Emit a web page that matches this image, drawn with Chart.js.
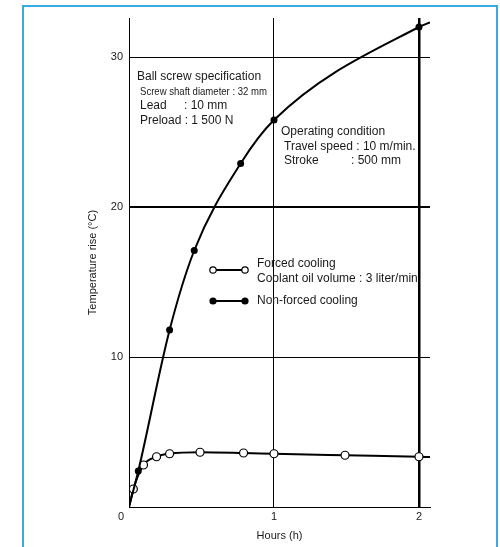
<!DOCTYPE html>
<html>
<head>
<meta charset="utf-8">
<script src="https://cdn.jsdelivr.net/npm/chart.js@4.4.1/dist/chart.umd.min.js"></script>
<style>
  body { margin: 0; background: #fff; }
  #wrap { width: 500px; height: 547px; }
</style>
</head>
<body>
<div id="wrap"><canvas id="TempChart" width="500" height="547"></canvas></div>
<script>
// values (hours / temperature rise in degC)
var forcedHours = [0, 0.03, 0.10, 0.19, 0.28, 0.49, 0.79, 1.0, 1.49, 2.0, 2.076];
var forcedTemp  = [0, 1.2, 2.8, 3.35, 3.55, 3.65, 3.6, 3.55, 3.45, 3.35, 3.33];
var nonForcedHours = [0, 0.064, 0.28, 0.45, 0.77, 1.0, 2.0, 2.076];
var nonForcedTemp  = [0, 2.4, 11.8, 17.1, 22.9, 25.8, 32.0, 32.3];
var xTicks = [0, 1, 2];
var yTicks = [0, 10, 20, 30];
var xMax = 2.076;
var yMax = 32.6;

function toPoints(xs, ys)
{
    var pts = [];
    for (var i = 0; i < xs.length; i++) pts.push({x: xs[i], y: ys[i]});
    return pts;
}

// hide the marker on the first and last point (curve start / run-out)
function markerRadius(r)
{
    return function(ctx) {
        var n = ctx.dataset.data.length;
        return (ctx.dataIndex === 0 || ctx.dataIndex === n - 1) ? 0 : r;
    };
}

var FONT = "'Liberation Sans', Arial, Helvetica, sans-serif";

// squeeze a line of text into a given width (condensed look)
function narrowText(c, txt, x, y, w)
{
    var k = w / c.measureText(txt).width;
    c.save();
    c.translate(x, y);
    c.scale(k, 1);
    c.fillText(txt, 0, 0);
    c.restore();
}

var framePlugin = {
    id: 'frame',
    beforeDraw: function(chart) {
        var c = chart.ctx;
        c.save();
        c.fillStyle = '#fff';
        c.fillRect(0, 0, chart.width, chart.height);
        c.strokeStyle = '#3aa9e2';
        c.lineWidth = 2;
        c.strokeRect(23, 6, 474, 560);
        c.restore();
    }
};

var notesPlugin = {
    id: 'notes',
    afterDraw: function(chart) {
        var c = chart.ctx;
        var a = chart.chartArea;
        c.save();
        c.fillStyle = '#1a1a1a';
        c.textBaseline = 'middle';
        c.textAlign = 'left';

        c.font = '12px ' + FONT;
        c.fillText('Ball screw specification', 137, 77);
        c.font = '11px ' + FONT;
        narrowText(c, 'Screw shaft diameter : 32 mm', 140, 92, 127);
        c.font = '12px ' + FONT;
        c.fillText('Lead', 140, 106);
        c.fillText(': 10 mm', 184, 106);
        c.fillText('Preload : 1 500 N', 140, 121);

        c.fillText('Operating condition', 281, 132);
        c.fillText('Travel speed : 10 m/min.', 284, 147);
        c.fillText('Stroke', 284, 161);
        c.fillText(': 500 mm', 351, 161);

        c.fillText('Forced cooling', 257, 264);
        c.fillText('Coolant oil volume : 3 liter/min.', 257, 279);
        c.fillText('Non-forced cooling', 257, 301);

        // legend keys
        c.strokeStyle = '#000';
        c.lineWidth = 2;
        c.beginPath(); c.moveTo(213, 270); c.lineTo(245, 270); c.stroke();
        c.beginPath(); c.moveTo(213, 301); c.lineTo(245, 301); c.stroke();
        c.lineWidth = 1.2;
        [213, 245].forEach(function(x) {
            c.beginPath(); c.arc(x, 270, 3.2, 0, Math.PI * 2);
            c.fillStyle = '#fff'; c.fill(); c.stroke();
            c.beginPath(); c.arc(x, 301, 3.6, 0, Math.PI * 2);
            c.fillStyle = '#000'; c.fill();
        });

        // shared origin label
        c.fillStyle = '#1a1a1a';
        c.font = '11px ' + FONT;
        c.textAlign = 'center';
        c.fillText('0', a.left - 8, a.bottom + 10);
        c.restore();
    }
};

var canvasTemp = document.getElementById('TempChart').getContext('2d');

var myChart = new Chart(canvasTemp, {
    type: 'line',
    data: {
        datasets: [{
            label: 'Non-forced cooling',
            data: toPoints(nonForcedHours, nonForcedTemp),
            borderColor: '#000',
            backgroundColor: '#000',
            borderWidth: 2,
            pointRadius: markerRadius(3.5),
            pointBorderWidth: 0,
            cubicInterpolationMode: 'monotone',
            fill: false
        }, {
            label: 'Forced cooling',
            data: toPoints(forcedHours, forcedTemp),
            borderColor: '#000',
            backgroundColor: '#fff',
            borderWidth: 2,
            pointRadius: markerRadius(4),
            pointBorderWidth: 1.2,
            pointBorderColor: '#000',
            pointBackgroundColor: '#fff',
            cubicInterpolationMode: 'monotone',
            fill: false
        }]
    },
    options: {
        responsive: false,
        animation: false,
        layout: { padding: { left: 82, right: 70, top: 18, bottom: 0 } },
        plugins: {
            legend: { display: false },
            tooltip: { enabled: false }
        },
        scales: {
            x: {
                type: 'linear',
                min: 0,
                max: xMax,
                afterBuildTicks: function(s) { s.ticks = xTicks.map(function(v) { return {value: v}; }); },
                afterFit: function(s) { s.height = 40; },
                ticks: {
                    padding: 3,
                    color: '#1a1a1a',
                    font: { family: FONT, size: 11 },
                    callback: function(v) { return v === 0 ? '' : String(v); }
                },
                grid: {
                    drawTicks: false,
                    color: function(ctx) { return ctx.tick && ctx.tick.value === 0 ? 'rgba(0,0,0,0)' : '#000'; },
                    lineWidth: function(ctx) { return ctx.tick && ctx.tick.value === 2 ? 2.5 : 1; }
                },
                border: { display: true, color: '#000', width: 1 },
                title: {
                    display: true,
                    text: 'Hours (h)',
                    color: '#1a1a1a',
                    font: { family: FONT, size: 11 },
                    padding: { top: 0, bottom: 4 }
                }
            },
            y: {
                type: 'linear',
                min: 0,
                max: yMax,
                afterBuildTicks: function(s) { s.ticks = yTicks.map(function(v) { return {value: v}; }); },
                afterFit: function(s) { s.width = 47; },
                ticks: {
                    padding: 6,
                    color: '#1a1a1a',
                    font: { family: FONT, size: 11 },
                    callback: function(v) { return v === 0 ? '' : String(v); }
                },
                grid: {
                    drawTicks: false,
                    color: function(ctx) { return ctx.tick && ctx.tick.value === 0 ? 'rgba(0,0,0,0)' : '#000'; },
                    lineWidth: function(ctx) { return ctx.tick && ctx.tick.value === 20 ? 2 : 1; }
                },
                border: { display: true, color: '#000', width: 1 },
                title: {
                    display: true,
                    text: 'Temperature rise (°C)',
                    color: '#1a1a1a',
                    font: { family: FONT, size: 11 },
                    padding: { top: 4, bottom: 4 }
                }
            }
        }
    },
    plugins: [framePlugin, notesPlugin]
});
</script>
</body>
</html>
